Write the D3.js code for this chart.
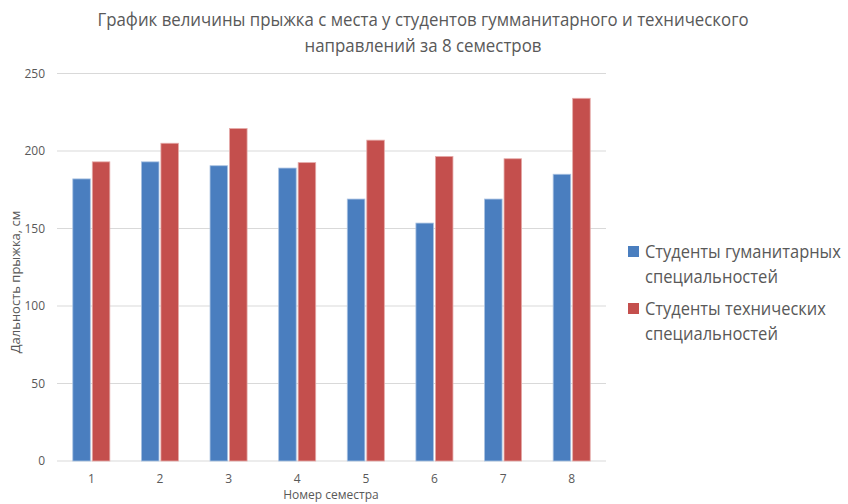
<!DOCTYPE html>
<html>
<head>
<meta charset="utf-8">
<script src="https://cdn.jsdelivr.net/npm/d3@7"></script>
<style>
  html, body { margin: 0; padding: 0; background: #fff; }
  svg { display: block; }
  text { font-family: "Open Sans", "Noto Sans", "DejaVu Sans", sans-serif; fill: #595959; }
</style>
</head>
<body>
<svg id="chart" width="848" height="504"></svg>
<script>
const semesters = ["1", "2", "3", "4", "5", "6", "7", "8"];
const humanities = [182, 193, 190.5, 189, 169, 153.5, 169, 185];
const technical = [193, 205, 214.5, 192.5, 207, 196.5, 195, 234];
const legendLines = [["Студенты гуманитарных", "специальностей"], ["Студенты технических", "специальностей"]];
const seriesColors = ["#4a7ebf", "#c44f4d"];
const yTicks = [0, 50, 100, 150, 200, 250];
const titleLines = ["График величины прыжка с места у студентов гумманитарного и технического", "направлений за 8 семестров"];
const yTitle = "Дальность прыжка, см";
const xTitle = "Номер семестра";

const svg = d3.select("#chart");
const plotL = 57, plotR = 606, plotT = 73.5, plotB = 461;

// squeeze text to a target width (reference font is a narrow one)
function fit(sel, w) {
  sel.each(function() {
    const cur = this.getComputedTextLength();
    if (cur > w) {
      d3.select(this).attr("textLength", w).attr("lengthAdjust", "spacingAndGlyphs");
    }
  });
}

const x = d3.scaleBand().domain(semesters).range([plotL, plotR]).padding(0);
const y = d3.scaleLinear().domain([0, 250]).range([plotB, plotT]);

// gridlines
svg.append("g").selectAll("line").data(yTicks).join("line")
  .attr("x1", plotL).attr("x2", plotR)
  .attr("y1", d => y(d)).attr("y2", d => y(d))
  .attr("stroke", "#d9d9d9").attr("stroke-width", 1);

// y tick labels
svg.append("g").selectAll("text").data(yTicks).join("text")
  .attr("x", 45).attr("y", d => y(d) + 4)
  .attr("text-anchor", "end").attr("font-size", 12)
  .text(d => d);

// x tick labels
svg.append("g").selectAll("text").data(semesters).join("text")
  .attr("x", d => x(d) + x.bandwidth() / 2).attr("y", 483)
  .attr("text-anchor", "middle").attr("font-size", 12)
  .text(d => d);

// bars
const inner = d3.scaleBand().domain([0, 1]).range([-19.5, 19.5]).paddingInner(0.1).paddingOuter(0.05);
const data = [humanities, technical];
data.forEach((vals, si) => {
  svg.append("g").selectAll("rect").data(vals).join("rect")
    .attr("x", (d, i) => x(semesters[i]) + x.bandwidth() / 2 + inner(si))
    .attr("width", inner.bandwidth())
    .attr("y", d => y(d))
    .attr("height", d => y(0) - y(d))
    .attr("fill", seriesColors[si])
    .attr("stroke", si === 0 ? "#a9c2e2" : "#e5aaa8")
    .attr("stroke-width", 0.8);
});

// title
const titleWidths = [651, 237];
svg.append("g").selectAll("text").data(titleLines).join("text")
  .attr("x", 423).attr("y", (d, i) => 26 + i * 26)
  .attr("text-anchor", "middle").attr("font-size", 18)
  .text(d => d)
  .each(function(d, i) { fit(d3.select(this), titleWidths[i]); });

// axis titles
svg.append("text")
  .attr("transform", "translate(20," + 282 + ") rotate(-90)")
  .attr("text-anchor", "middle").attr("font-size", 13)
  .text(yTitle)
  .call(fit, 150);
svg.append("text")
  .attr("x", 331).attr("y", 499)
  .attr("text-anchor", "middle").attr("font-size", 12)
  .text(xTitle)
  .call(fit, 97);

// legend (text narrowed with a horizontal scale so its box stays inside)
const legendWidths = [[196, 133], [181, 133]];
const lg = svg.append("g");
legendLines.forEach((lines, si) => {
  const y0 = 258 + si * 57;
  lg.append("rect").attr("x", 628).attr("y", y0 - 12).attr("width", 11).attr("height", 11)
    .attr("fill", seriesColors[si]);
  lines.forEach((t, li) => {
    const g = lg.append("g");
    const tx = g.append("text").attr("x", 0).attr("y", 0).attr("font-size", 18).text(t);
    const natural = tx.node().getComputedTextLength();
    const k = Math.min(1, legendWidths[si][li] / natural);
    g.attr("transform", "translate(645," + (y0 + li * 25) + ") scale(" + k + ",1)");
  });
});
</script>
</body>
</html>
